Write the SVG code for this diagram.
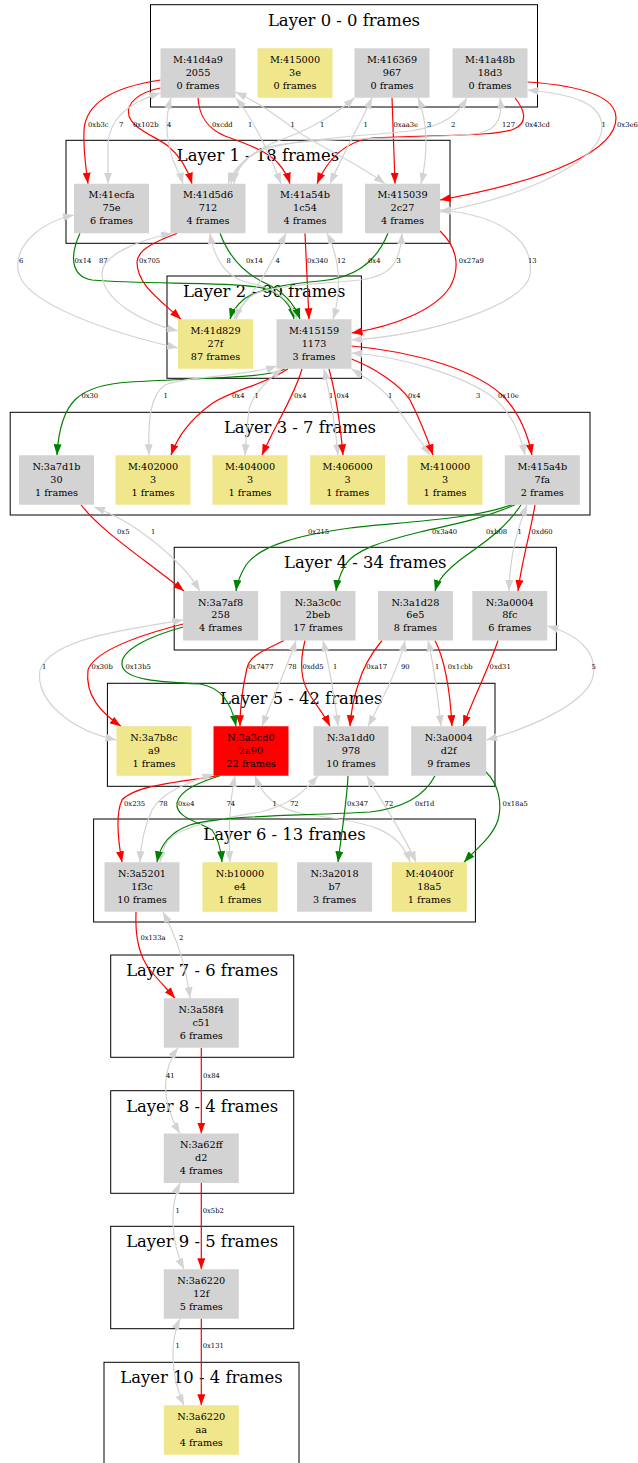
<svg xmlns="http://www.w3.org/2000/svg" width="638" height="1463" viewBox="0 0 638 1463">
<style>
text{font-family:"DejaVu Serif","Liberation Serif",serif;fill:#000}
.t{font-size:9.7px;text-anchor:middle}
.ct{font-size:16.4px;text-anchor:middle}
.lb{font-size:6.8px}
.cl{fill:none;stroke:#000;stroke-width:1}
.g{fill:#d3d3d3}.y{fill:#f0e68c}.r{fill:#ff0000}
.e path{fill:none;stroke-width:1.2}
.er{stroke:#ff0000;marker-end:url(#ar)}
.eg{stroke:#008000;marker-end:url(#ag)}
.ey{stroke:#d3d3d3;marker-end:url(#ay);marker-start:url(#ay)}
</style>
<defs>
<marker id="ar" viewBox="0 0 11 8" refX="11" refY="4" markerWidth="11" markerHeight="8" markerUnits="userSpaceOnUse" orient="auto-start-reverse"><path d="M0,0L11,4L0,8z" fill="#ff0000"/></marker>
<marker id="ag" viewBox="0 0 11 8" refX="11" refY="4" markerWidth="11" markerHeight="8" markerUnits="userSpaceOnUse" orient="auto-start-reverse"><path d="M0,0L11,4L0,8z" fill="#008000"/></marker>
<marker id="ay" viewBox="0 0 11 8" refX="11" refY="4" markerWidth="11" markerHeight="8" markerUnits="userSpaceOnUse" orient="auto-start-reverse"><path d="M0,0L11,4L0,8z" fill="#d3d3d3"/></marker>
</defs>
<rect width="638" height="1463" fill="#fff"/>
<g id="clusters">
<rect class="cl" x="150.5" y="4.7" width="387" height="102.3"/><text class="ct" x="344" y="25.7">Layer 0 - 0 frames</text>
<rect class="cl" x="66" y="140.3" width="384" height="103"/><text class="ct" x="258" y="161.3">Layer 1 - 18 frames</text>
<rect class="cl" x="167" y="276" width="194.4" height="102.3"/><text class="ct" x="264.2" y="297">Layer 2 - 90 frames</text>
<rect class="cl" x="10.2" y="412.3" width="579.8" height="102.7"/><text class="ct" x="300" y="433.3">Layer 3 - 7 frames</text>
<rect class="cl" x="174.2" y="547.3" width="382.2" height="102.7"/><text class="ct" x="365.3" y="568.3">Layer 4 - 34 frames</text>
<rect class="cl" x="107.4" y="683.3" width="387.6" height="103"/><text class="ct" x="301.2" y="704.3">Layer 5 - 42 frames</text>
<rect class="cl" x="93.6" y="819" width="381.8" height="103"/><text class="ct" x="284.5" y="840">Layer 6 - 13 frames</text>
<rect class="cl" x="110.7" y="955" width="183" height="102.3"/><text class="ct" x="202.2" y="976">Layer 7 - 6 frames</text>
<rect class="cl" x="110.7" y="1090.7" width="183" height="102.6"/><text class="ct" x="202.2" y="1111.7">Layer 8 - 4 frames</text>
<rect class="cl" x="110.7" y="1226.3" width="183" height="102.4"/><text class="ct" x="202.2" y="1247.3">Layer 9 - 5 frames</text>
<rect class="cl" x="104" y="1362.3" width="195" height="110"/><text class="ct" x="201.5" y="1383.3">Layer 10 - 4 frames</text>
</g>
<g id="connectors" class="e">
<path class="er" d="M160.5,80 C120,86 86,100 84,130 C83,150 86,168 88,183.75"/>
<path class="er" d="M160.5,88 C140,92 125,103 129,116 C134,130 155,136 168,146 C180,156 188,170 192,183.75"/>
<path class="er" d="M198,97.75 C199,115 206,128 225,136 C250,145 268,152 278,163 C284,170 288,177 290,183.75"/>
<path class="er" d="M392,97.75 C393,125 394,155 395,183.75"/>
<path class="er" d="M515,97.75 C523,108 530,122 514,129 C498,136 440,135 372,138 C345,141 327,160 317,183.75"/>
<path class="er" d="M527.5,82 C572,85 616,94 616,118 C616,148 560,178 440,200"/>
<path class="ey" d="M160.5,93 C130,102 110,118 108,143 L108,183.75"/>
<path class="ey" d="M171,97.75 C165,118 166,140 173,160 C177,170 181,177 183,183.75"/>
<path class="ey" d="M236,98 C252,118 268,150 281,183.75"/>
<path class="ey" d="M235.5,92 C262,104 282,120 300,133 C330,152 360,165 385,183.75"/>
<path class="ey" d="M354.5,97.75 C335,115 305,132 280,140 C255,150 235,165 228,183.75"/>
<path class="ey" d="M372,97.75 C362,120 345,150 330,183.75"/>
<path class="ey" d="M418,97.75 C428,122 428,155 421,183.75"/>
<path class="ey" d="M467,97.75 C457,115 445,126 410,131 C340,138 270,140 248,158 C238,166 233,175 231,183.75"/>
<path class="ey" d="M500,97.75 C502,115 500,128 480,133 C440,140 300,136 265,148 C245,156 235,172 234,183.75"/>
<path class="ey" d="M527.5,90 C570,94 602,102 602,127 C602,160 530,195 440,212"/>
<path class="ey" d="M74,215 C40,222 15,245 18,270 C22,305 120,335 178,348"/>
<path class="eg" d="M80,233.25 C70,255 70,276 92,280 C150,285 240,281 266,289 C285,296 292,308 294,319.25"/>
<path class="ey" d="M172,233.25 C140,240 100,255 102,275 C104,300 140,322 178,331"/>
<path class="er" d="M177,233.25 C160,240 138,248 137,262 C137,285 160,300 181,319.25"/>
<path class="ey" d="M210,233.25 C214,258 225,278 250,283 C275,288 293,302 297,319.25"/>
<path class="eg" d="M220,233.25 C230,260 248,275 265,283 C285,292 295,305 300,319.25"/>
<path class="ey" d="M286,233.25 C275,255 268,270 258,285 C248,298 238,310 234,319.25"/>
<path class="er" d="M305,233.25 L309,319.25"/>
<path class="ey" d="M327,233.25 C340,258 342,290 333,319.25"/>
<path class="eg" d="M388,233.25 C375,265 352,278 320,281 C285,284 255,290 243,300 C236,306 232,312 230,319.25"/>
<path class="ey" d="M402,233.25 C400,262 392,276 360,280 C305,285 268,286 253,295 C243,302 238,311 236,319.25"/>
<path class="er" d="M440,231 C455,245 462,265 450,287 C435,310 395,326 351.5,333"/>
<path class="ey" d="M440,210 C500,215 535,240 530,275 C525,305 430,335 351.5,340"/>
<path class="eg" d="M285,368.75 C270,378 200,378 130,382 C80,385 60,400 57,455.25"/>
<path class="ey" d="M277,366 C240,378 190,375 165,385 C150,395 148,420 149,455.25"/>
<path class="er" d="M288,368.75 C265,385 230,390 210,405 C190,420 178,435 171,455.25"/>
<path class="ey" d="M282,368.75 C265,382 252,395 249,410 C247,425 246,440 245,455.25"/>
<path class="er" d="M302,368.75 C295,395 275,425 262,455.25"/>
<path class="ey" d="M324,368.75 C330,395 335,420 338,455.25"/>
<path class="er" d="M329,368.75 C336,395 340,420 343,455.25"/>
<path class="ey" d="M351.5,369 C370,380 385,390 395,405 C405,420 420,440 430,455.25"/>
<path class="er" d="M351.5,359 C375,368 400,385 410,400 C420,420 428,440 433,455.25"/>
<path class="ey" d="M351.5,353 C400,356 460,375 490,395 C510,410 520,432 525,455.25"/>
<path class="er" d="M351.5,346 C420,352 480,372 505,398 C520,415 528,435 532,455.25"/>
<path class="er" d="M81,504.75 C100,530 140,556 184,591"/>
<path class="ey" d="M94,507 C130,520 160,545 180,565 C190,575 195,583 200,591"/>
<path class="eg" d="M512,504.75 C470,520 400,522 350,528 C300,535 260,545 246,565 C240,575 237,583 236,591"/>
<path class="eg" d="M515,504.75 C480,520 450,525 420,532 C380,542 355,550 345,565 C340,575 337,583 336,591"/>
<path class="eg" d="M521,504.75 C505,530 480,545 460,560 C445,572 438,580 435,591"/>
<path class="ey" d="M527,504.75 C517,530 510,555 509,591"/>
<path class="er" d="M535,504.75 C530,535 522,560 518,591"/>
<path class="ey" d="M183.1,620 C120,630 50,640 40,670 C35,700 70,730 116.5,740"/>
<path class="er" d="M183.1,624 C140,635 95,650 88,670 C85,695 100,712 121,726.25"/>
<path class="eg" d="M183.1,627 C150,636 120,650 122,665 C124,680 160,682 200,684 C225,688 233,710 236,726.25"/>
<path class="er" d="M284,640.5 C265,650 250,655 247,668 C242,690 240,710 240,726.25"/>
<path class="ey" d="M296,640.5 C290,660 280,680 262,726.25"/>
<path class="er" d="M305,640.5 C300,660 300,680 310,695 C318,708 325,716 330,726.25"/>
<path class="ey" d="M323,640.5 C330,670 335,700 338,726.25"/>
<path class="er" d="M382,640.5 C370,655 362,670 358,685 C353,700 351,712 350,726.25"/>
<path class="ey" d="M405,640.5 C400,665 385,695 368,726.25"/>
<path class="ey" d="M428,640.5 C435,670 438,700 441,726.25"/>
<path class="er" d="M435,640.5 C445,660 450,690 452,726.25"/>
<path class="er" d="M498,640.5 C490,665 475,695 463,726.25"/>
<path class="ey" d="M547.3,626 C580,635 600,655 592,680 C582,705 530,728 486.2,740"/>
<path class="er" d="M218,775.75 C180,782 135,785 122,800 C115,815 118,840 122,862.25"/>
<path class="ey" d="M213.5,774 C180,785 160,795 152,810 C145,825 141,840 140,862.25"/>
<path class="eg" d="M220,775.75 C200,782 180,790 177,803 C175,818 200,822 212,830 C218,838 221,850 222,862.25"/>
<path class="ey" d="M235,775.75 C230,800 228,830 230,862.25"/>
<path class="ey" d="M255,775.75 C262,795 275,810 310,815 C370,822 400,830 410,862.25"/>
<path class="ey" d="M318,775.75 C305,790 292,805 260,812 C210,820 180,828 168,840 C163,848 161,855 160,862.25"/>
<path class="eg" d="M348,775.75 C347,800 342,830 338,862.25"/>
<path class="ey" d="M367,775.75 C380,800 402,830 416,862.25"/>
<path class="eg" d="M435,775.75 C425,795 405,808 370,812 C300,816 220,815 190,825 C170,832 160,845 157,862.25"/>
<path class="eg" d="M485,771 C500,785 502,805 498,820 C492,838 475,850 464,862.25"/>
<path class="er" d="M136,911.75 C135,935 138,955 150,970 C160,982 168,990 175,998.25"/>
<path class="ey" d="M163,911.75 C175,935 185,960 190,998.25"/>
<path class="ey" d="M178,1047.75 C162,1070 160,1100 180,1133.5"/>
<path class="er" d="M201.3,1047.75 L201.3,1133.5"/>
<path class="ey" d="M180,1183 C170,1205 170,1240 184,1269.25"/>
<path class="er" d="M201.3,1183 L201.3,1269.25"/>
<path class="ey" d="M180,1318.75 C170,1340 170,1375 184,1405.25"/>
<path class="er" d="M201.3,1318.75 L201.3,1405.25"/>
</g>
<g id="edge-labels">
<text class="lb" x="88" y="126.5">0xb3c</text><text class="lb" x="119" y="126.5">7</text><text class="lb" x="133" y="126.5">0x102b</text><text class="lb" x="167" y="126.5">4</text><text class="lb" x="212" y="126.5">0xcdd</text><text class="lb" x="248" y="126.5">1</text><text class="lb" x="290.5" y="126.5">1</text><text class="lb" x="320" y="126.5">1</text><text class="lb" x="363.5" y="126.5">1</text><text class="lb" x="393.5" y="126.5">0xaa3e</text><text class="lb" x="427" y="126.5">3</text><text class="lb" x="451" y="126.5">2</text><text class="lb" x="502" y="126.5">127</text><text class="lb" x="525" y="126.5">0x43cd</text><text class="lb" x="601.5" y="126.5">1</text><text class="lb" x="617" y="126.5">0x3e6</text>
<text class="lb" x="19" y="262.5">6</text><text class="lb" x="74.5" y="262.5">0x14</text><text class="lb" x="99" y="262.5">87</text><text class="lb" x="139" y="262.5">0x705</text><text class="lb" x="226.5" y="262.5">8</text><text class="lb" x="246" y="262.5">0x14</text><text class="lb" x="275.5" y="262.5">4</text><text class="lb" x="307" y="262.5">0x340</text><text class="lb" x="337" y="262.5">12</text><text class="lb" x="368" y="262.5">0x4</text><text class="lb" x="396.5" y="262.5">3</text><text class="lb" x="458.7" y="262.5">0x27a9</text><text class="lb" x="528" y="262.5">13</text>
<text class="lb" x="81.4" y="398">0x30</text><text class="lb" x="163.5" y="398">1</text><text class="lb" x="232" y="398">0x4</text><text class="lb" x="254.5" y="398">1</text><text class="lb" x="294" y="398">0x4</text><text class="lb" x="329" y="398">1</text><text class="lb" x="336.6" y="398">0x4</text><text class="lb" x="388" y="398">1</text><text class="lb" x="408" y="398">0x4</text><text class="lb" x="476" y="398">3</text><text class="lb" x="498" y="398">0x10e</text>
<text class="lb" x="117" y="533.5">0x5</text><text class="lb" x="151" y="533.5">1</text><text class="lb" x="308" y="533.5">0x215</text><text class="lb" x="432" y="533.5">0x3a40</text><text class="lb" x="486" y="533.5">0xb08</text><text class="lb" x="517.5" y="533.5">1</text><text class="lb" x="531.5" y="533.5">0xd60</text>
<text class="lb" x="42" y="669">1</text><text class="lb" x="91.6" y="669">0x30b</text><text class="lb" x="125.4" y="669">0x13b5</text><text class="lb" x="248" y="669">0x7477</text><text class="lb" x="288" y="669">78</text><text class="lb" x="302.4" y="669">0xdd5</text><text class="lb" x="333" y="669">1</text><text class="lb" x="366.3" y="669">0xa17</text><text class="lb" x="401" y="669">90</text><text class="lb" x="435" y="669">1</text><text class="lb" x="447.7" y="669">0x1cbb</text><text class="lb" x="489.6" y="669">0xd31</text><text class="lb" x="591.5" y="669">5</text>
<text class="lb" x="124" y="805.5">0x235</text><text class="lb" x="159" y="805.5">78</text><text class="lb" x="178" y="805.5">0xe4</text><text class="lb" x="226.5" y="805.5">74</text><text class="lb" x="272.5" y="805.5">1</text><text class="lb" x="290" y="805.5">72</text><text class="lb" x="347" y="805.5">0x347</text><text class="lb" x="384.6" y="805.5">72</text><text class="lb" x="415" y="805.5">0xf1d</text><text class="lb" x="502.6" y="805.5">0x18a5</text>
<text class="lb" x="140.4" y="940">0x133a</text><text class="lb" x="179" y="940">2</text>
<text class="lb" x="166" y="1077.5">41</text><text class="lb" x="203" y="1077.5">0x84</text>
<text class="lb" x="175.5" y="1212.5">1</text><text class="lb" x="202.7" y="1212.5">0x5b2</text>
<text class="lb" x="175.5" y="1348">1</text><text class="lb" x="202.7" y="1348">0x131</text>
</g>
<g id="n0a"><rect class="g" x="160.5" y="48.25" width="75" height="49.5"/><text class="t" x="198" y="62.9">M:41d4a9<tspan x="198" dy="12.8">2055</tspan><tspan x="198" dy="12.8">0 frames</tspan></text></g>
<g id="n0b"><rect class="y" x="257.5" y="48.25" width="75" height="49.5"/><text class="t" x="295" y="62.9">M:415000<tspan x="295" dy="12.8">3e</tspan><tspan x="295" dy="12.8">0 frames</tspan></text></g>
<g id="n0c"><rect class="g" x="354.5" y="48.25" width="75" height="49.5"/><text class="t" x="392" y="62.9">M:416369<tspan x="392" dy="12.8">967</tspan><tspan x="392" dy="12.8">0 frames</tspan></text></g>
<g id="n0d"><rect class="g" x="452.5" y="48.25" width="75" height="49.5"/><text class="t" x="490" y="62.9">M:41a48b<tspan x="490" dy="12.8">18d3</tspan><tspan x="490" dy="12.8">0 frames</tspan></text></g>
<g id="n1a"><rect class="g" x="74" y="183.75" width="75" height="49.5"/><text class="t" x="111.5" y="198.4">M:41ecfa<tspan x="111.5" dy="12.8">75e</tspan><tspan x="111.5" dy="12.8">6 frames</tspan></text></g>
<g id="n1b"><rect class="g" x="170.5" y="183.75" width="75" height="49.5"/><text class="t" x="208" y="198.4">M:41d5d6<tspan x="208" dy="12.8">712</tspan><tspan x="208" dy="12.8">4 frames</tspan></text></g>
<g id="n1c"><rect class="g" x="267.5" y="183.75" width="75" height="49.5"/><text class="t" x="305" y="198.4">M:41a54b<tspan x="305" dy="12.8">1c54</tspan><tspan x="305" dy="12.8">4 frames</tspan></text></g>
<g id="n1d"><rect class="g" x="365" y="183.75" width="75" height="49.5"/><text class="t" x="402.5" y="198.4">M:415039<tspan x="402.5" dy="12.8">2c27</tspan><tspan x="402.5" dy="12.8">4 frames</tspan></text></g>
<g id="n2a"><rect class="y" x="178" y="319.25" width="75" height="49.5"/><text class="t" x="215.5" y="333.9">M:41d829<tspan x="215.5" dy="12.8">27f</tspan><tspan x="215.5" dy="12.8">87 frames</tspan></text></g>
<g id="n2b"><rect class="g" x="276.5" y="319.25" width="75" height="49.5"/><text class="t" x="314" y="333.9">M:415159<tspan x="314" dy="12.8">1173</tspan><tspan x="314" dy="12.8">3 frames</tspan></text></g>
<g id="n3a"><rect class="g" x="19" y="455.25" width="75" height="49.5"/><text class="t" x="56.5" y="469.9">N:3a7d1b<tspan x="56.5" dy="12.8">30</tspan><tspan x="56.5" dy="12.8">1 frames</tspan></text></g>
<g id="n3b"><rect class="y" x="115.5" y="455.25" width="75" height="49.5"/><text class="t" x="153" y="469.9">M:402000<tspan x="153" dy="12.8">3</tspan><tspan x="153" dy="12.8">1 frames</tspan></text></g>
<g id="n3c"><rect class="y" x="212.5" y="455.25" width="75" height="49.5"/><text class="t" x="250" y="469.9">M:404000<tspan x="250" dy="12.8">3</tspan><tspan x="250" dy="12.8">1 frames</tspan></text></g>
<g id="n3d"><rect class="y" x="310.2" y="455.25" width="75" height="49.5"/><text class="t" x="347.7" y="469.9">M:406000<tspan x="347.7" dy="12.8">3</tspan><tspan x="347.7" dy="12.8">1 frames</tspan></text></g>
<g id="n3e"><rect class="y" x="407.5" y="455.25" width="75" height="49.5"/><text class="t" x="445" y="469.9">M:410000<tspan x="445" dy="12.8">3</tspan><tspan x="445" dy="12.8">1 frames</tspan></text></g>
<g id="n3f"><rect class="g" x="504.8" y="455.25" width="75" height="49.5"/><text class="t" x="542.3" y="469.9">M:415a4b<tspan x="542.3" dy="12.8">7fa</tspan><tspan x="542.3" dy="12.8">2 frames</tspan></text></g>
<g id="n4a"><rect class="g" x="183.1" y="591" width="75" height="49.5"/><text class="t" x="220.6" y="605.6">N:3a7af8<tspan x="220.6" dy="12.8">258</tspan><tspan x="220.6" dy="12.8">4 frames</tspan></text></g>
<g id="n4b"><rect class="g" x="280.5" y="591" width="75" height="49.5"/><text class="t" x="318" y="605.6">N:3a3c0c<tspan x="318" dy="12.8">2beb</tspan><tspan x="318" dy="12.8">17 frames</tspan></text></g>
<g id="n4c"><rect class="g" x="377.9" y="591" width="75" height="49.5"/><text class="t" x="415.4" y="605.6">N:3a1d28<tspan x="415.4" dy="12.8">6e5</tspan><tspan x="415.4" dy="12.8">8 frames</tspan></text></g>
<g id="n4d"><rect class="g" x="472.3" y="591" width="75" height="49.5"/><text class="t" x="509.8" y="605.6">N:3a0004<tspan x="509.8" dy="12.8">8fc</tspan><tspan x="509.8" dy="12.8">6 frames</tspan></text></g>
<g id="n5a"><rect class="y" x="116.5" y="726.25" width="75" height="49.5"/><text class="t" x="154" y="740.9">N:3a7b8c<tspan x="154" dy="12.8">a9</tspan><tspan x="154" dy="12.8">1 frames</tspan></text></g>
<g id="n5b"><rect class="r" x="213.5" y="726.25" width="75" height="49.5"/><text class="t" x="251" y="740.9">N:3a3cd0<tspan x="251" dy="12.8">2a90</tspan><tspan x="251" dy="12.8">22 frames</tspan></text></g>
<g id="n5c"><rect class="g" x="313.5" y="726.25" width="75" height="49.5"/><text class="t" x="351" y="740.9">N:3a1dd0<tspan x="351" dy="12.8">978</tspan><tspan x="351" dy="12.8">10 frames</tspan></text></g>
<g id="n5d"><rect class="g" x="411.2" y="726.25" width="75" height="49.5"/><text class="t" x="448.7" y="740.9">N:3a0004<tspan x="448.7" dy="12.8">d2f</tspan><tspan x="448.7" dy="12.8">9 frames</tspan></text></g>
<g id="n6a"><rect class="g" x="104.5" y="862.25" width="75" height="49.5"/><text class="t" x="142" y="876.9">N:3a5201<tspan x="142" dy="12.8">1f3c</tspan><tspan x="142" dy="12.8">10 frames</tspan></text></g>
<g id="n6b"><rect class="y" x="202.5" y="862.25" width="75" height="49.5"/><text class="t" x="240" y="876.9">N:b10000<tspan x="240" dy="12.8">e4</tspan><tspan x="240" dy="12.8">1 frames</tspan></text></g>
<g id="n6c"><rect class="g" x="297.1" y="862.25" width="75" height="49.5"/><text class="t" x="334.6" y="876.9">N:3a2018<tspan x="334.6" dy="12.8">b7</tspan><tspan x="334.6" dy="12.8">3 frames</tspan></text></g>
<g id="n6d"><rect class="y" x="391.9" y="862.25" width="75" height="49.5"/><text class="t" x="429.4" y="876.9">M:40400f<tspan x="429.4" dy="12.8">18a5</tspan><tspan x="429.4" dy="12.8">1 frames</tspan></text></g>
<g id="n7"><rect class="g" x="163.8" y="998.25" width="75" height="49.5"/><text class="t" x="201.3" y="1012.9">N:3a58f4<tspan x="201.3" dy="12.8">c51</tspan><tspan x="201.3" dy="12.8">6 frames</tspan></text></g>
<g id="n8"><rect class="g" x="163.8" y="1133.5" width="75" height="49.5"/><text class="t" x="201.3" y="1148.1">N:3a62ff<tspan x="201.3" dy="12.8">d2</tspan><tspan x="201.3" dy="12.8">4 frames</tspan></text></g>
<g id="n9"><rect class="g" x="163.8" y="1269.25" width="75" height="49.5"/><text class="t" x="201.3" y="1283.9">N:3a6220<tspan x="201.3" dy="12.8">12f</tspan><tspan x="201.3" dy="12.8">5 frames</tspan></text></g>
<g id="n10"><rect class="y" x="163.8" y="1405.25" width="75" height="49.5"/><text class="t" x="201.3" y="1419.9">N:3a6220<tspan x="201.3" dy="12.8">aa</tspan><tspan x="201.3" dy="12.8">4 frames</tspan></text></g>
</svg>
